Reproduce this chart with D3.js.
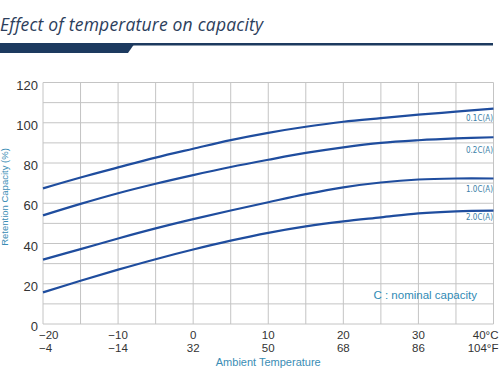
<!DOCTYPE html>
<html>
<head>
<meta charset="utf-8">
<script src="https://cdn.jsdelivr.net/npm/d3@7"></script>
<style>
  body { margin: 0; background: #fff; }
  svg { display: block; }
</style>
</head>
<body>
<svg></svg>
<script>
let width = 500, height = 390;

// temperatures (C) and matching F labels
var tempC = [-20, -15, -10, -5, 0, 5, 10, 15, 20, 25, 30, 35, 40];
var tickC = [-20, -10, 0, 10, 20, 30, 40];
var tickF = ["-4", "-14", "32", "50", "68", "86", "104"];
var yTicks = [0, 20, 40, 60, 80, 100, 120];

var seriesNames = ["0.1C(A)", "0.2C(A)", "1.0C(A)", "2.0C(A)"];
var cap01 = [67.4, 72.8, 77.8, 82.7, 87.1, 91.4, 95.0, 98.0, 100.5, 102.3, 104.0, 105.5, 107.0];
var cap02 = [54.0, 59.7, 65.0, 69.7, 74.0, 78.0, 81.6, 85.0, 87.8, 90.0, 91.3, 92.2, 92.8];
var cap10 = [32.0, 37.2, 42.5, 47.5, 52.1, 56.4, 60.5, 64.5, 67.9, 70.3, 71.8, 72.3, 72.3];
var cap20 = [15.7, 21.5, 27.0, 32.2, 37.0, 41.4, 45.3, 48.5, 51.0, 53.0, 55.0, 56.0, 56.3];
var allSeries = [cap01, cap02, cap10, cap20];
// where the series label sits (in % units)
var labelAt = [100.9, 85.0, 65.6, 51.7];

let svg = d3.select("svg")
    .attr("width", width)
    .attr("height", height)

// header
svg.append("text")
    .attr("x", 0)
    .attr("y", 31)
    .style("font-family", "Open Sans")
    .style("font-style", "italic")
    .style("font-size", "17.5px")
    .style("letter-spacing", "0.2px")
    .style("fill", "#2c3e5c")
    .text("Effect of temperature on capacity")

svg.append("rect")
    .attr("x", 0).attr("y", 43)
    .attr("width", 493).attr("height", 2.5)
    .attr("fill", "#1d3a5f")
svg.append("path")
    .attr("d", "M0,43 L135,43 L128,53 L0,53 Z")
    .attr("fill", "#1d3a5f")

var x = d3.scaleLinear().domain([-20, 40]).range([43, 493.5]);
var y = d3.scaleLinear().domain([0, 120]).range([324, 82.5]);

// grid
var grid = svg.append("g").attr("class", "grid")
grid.selectAll(".v")
    .data(tempC)
    .enter()
    .append("line")
    .attr("x1", d => x(d)).attr("x2", d => x(d))
    .attr("y1", y(120)).attr("y2", y(0))
    .attr("stroke", "#c4c4c4")
    .attr("stroke-width", 1)
grid.selectAll(".h")
    .data(d3.range(0, 121, 10))
    .enter()
    .append("line")
    .attr("x1", x(-20)).attr("x2", x(40))
    .attr("y1", d => y(d)).attr("y2", d => y(d))
    .attr("stroke", "#c4c4c4")
    .attr("stroke-width", 1)

// y tick labels
svg.append("g")
    .selectAll("text")
    .data(yTicks)
    .enter()
    .append("text")
    .attr("x", 38)
    .attr("y", d => y(d) + 7)
    .attr("text-anchor", "end")
    .style("font-family", "Liberation Sans")
    .style("font-size", "13px")
    .style("fill", "#333")
    .text(d => d)

// x tick labels (two rows)
var xt = svg.append("g")
function anchor(i) { return i == 0 ? "start" : (i == tickC.length - 1 ? "end" : "middle") }
function xpos(d, i) { return i == 0 ? x(d) - 4 : (i == tickC.length - 1 ? x(d) + 5 : x(d)) }
xt.selectAll(".c")
    .data(tickC)
    .enter()
    .append("text")
    .attr("x", (d, i) => xpos(d, i))
    .attr("y", 338.5)
    .attr("text-anchor", (d, i) => anchor(i))
    .style("font-family", "Liberation Sans")
    .style("font-size", "11.5px")
    .style("fill", "#333")
    .text((d, i) => (d < 0 ? "\u2212" + Math.abs(d) : d) + (i == tickC.length - 1 ? "°C" : ""))
xt.selectAll(".f")
    .data(tickF)
    .enter()
    .append("text")
    .attr("x", (d, i) => xpos(tickC[i], i))
    .attr("y", 351.5)
    .attr("text-anchor", (d, i) => anchor(i))
    .style("font-family", "Liberation Sans")
    .style("font-size", "11.5px")
    .style("fill", "#333")
    .text((d, i) => d.replace("-", "\u2212") + (i == tickF.length - 1 ? "°F" : ""))

// axis titles
svg.append("text")
    .attr("x", x(10))
    .attr("y", 366)
    .attr("text-anchor", "middle")
    .style("font-family", "Liberation Sans")
    .style("font-size", "11px")
    .style("fill", "#3a8db5")
    .text("Ambient Temperature")

svg.append("text")
    .attr("transform", "translate(8,197) rotate(-90)")
    .attr("text-anchor", "middle")
    .style("font-family", "Liberation Sans")
    .style("font-size", "9.5px")
    .style("fill", "#3a8db5")
    .text("Retention Capacity (%)")

// curves
var line = d3.line()
    .x((d, i) => x(tempC[i]))
    .y(d => y(d))
    .curve(d3.curveCatmullRom.alpha(0.5))

svg.append("g")
    .selectAll("path")
    .data(allSeries)
    .enter()
    .append("path")
    .attr("d", line)
    .attr("fill", "none")
    .attr("stroke", "#1f4d9e")
    .attr("stroke-width", 2.2)

// series labels
svg.append("g")
    .selectAll("text")
    .data(seriesNames)
    .enter()
    .append("text")
    .attr("x", 493)
    .attr("y", (d, i) => y(labelAt[i]))
    .attr("text-anchor", "end")
    .style("font-family", "DejaVu Sans Condensed")
    .style("font-size", "8px")
    .style("fill", "#3b7fa8")
    .text(d => d)

svg.append("text")
    .attr("x", 477)
    .attr("y", 299)
    .attr("text-anchor", "end")
    .style("font-family", "Liberation Sans")
    .style("font-size", "11.5px")
    .style("fill", "#2f8ab5")
    .text("C : nominal capacity")
</script>
</body>
</html>
